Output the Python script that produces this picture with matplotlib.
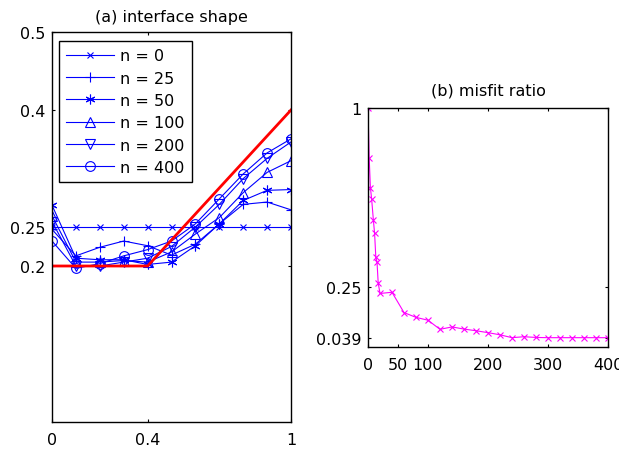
import matplotlib
matplotlib.use("Agg")
import matplotlib.pyplot as plt
import numpy as np

plt.rcParams['font.family'] = ['DejaVu Sans']
FS = 11.5
plt.rcParams['font.size'] = FS

# ---- data: (a) interface shape ----
x_pos = [0.0, 0.1, 0.2, 0.3, 0.4, 0.5, 0.6, 0.7, 0.8, 0.9, 1.0]
n0 = [0.25, 0.25, 0.25, 0.25, 0.25, 0.25, 0.25, 0.25, 0.25, 0.25, 0.25]
n25 = [0.247, 0.213, 0.224, 0.232, 0.226, 0.214, 0.228, 0.254, 0.279, 0.282, 0.272]
n50 = [0.278, 0.210, 0.208, 0.208, 0.202, 0.205, 0.226, 0.254, 0.284, 0.297, 0.298]
n100 = [0.2645, 0.205, 0.205, 0.207, 0.205, 0.218, 0.241, 0.262, 0.294, 0.320, 0.335]
n200 = [0.257, 0.200, 0.200, 0.205, 0.210, 0.225, 0.250, 0.279, 0.312, 0.338, 0.359]
n400 = [0.232, 0.197, 0.203, 0.213, 0.221, 0.232, 0.254, 0.286, 0.318, 0.345, 0.363]
series = [n0, n25, n50, n100, n200, n400]
labels = ['n = 0', 'n = 25', 'n = 50', 'n = 100', 'n = 200', 'n = 400']
markers = ['x', '+', (6, 2, 0), '^', 'v', 'o']
msizes = [5, 7, 7, 7, 7, 7]

true_x = [0.0, 0.4, 1.0]
true_y = [0.2, 0.2, 0.4]

# ---- data: (b) misfit ratio ----
iters = [0, 2, 4, 6, 9, 11, 13, 15, 17, 20, 40, 60, 80, 100, 120, 140, 160, 180,
         200, 220, 240, 260, 280, 300, 320, 340, 360, 380, 400]
misfit = [1.0, 0.79, 0.667, 0.621, 0.530, 0.475, 0.376, 0.356, 0.268, 0.224, 0.229,
          0.144, 0.124, 0.112, 0.074, 0.084, 0.075, 0.068, 0.060, 0.051, 0.039,
          0.043, 0.040, 0.039, 0.039, 0.039, 0.039, 0.039, 0.039]

W, H = 619, 452
fig = plt.figure(figsize=(W / 100, H / 100), dpi=100)

def frac(l, t, r, b):
    return [l / W, 1 - b / H, (r - l) / W, (b - t) / H]

ax1 = fig.add_axes(frac(52, 33, 291, 423))
for ys, lab, mk, ms in zip(series, labels, markers, msizes):
    ax1.plot(x_pos, ys, color='blue', lw=0.8, marker=mk, ms=ms,
             mfc='none', mec='blue', mew=0.8, label=lab)
ax1.plot(true_x, true_y, color='red', lw=2)
ax1.set_xlim(0, 1)
ax1.set_ylim(0, 0.5)
ax1.set_xticks([0, 0.4, 1])
ax1.set_xticklabels(['0', '0.4', '1'])
ax1.set_yticks([0.2, 0.25, 0.4, 0.5])
ax1.set_yticklabels(['0.2', '0.25', '0.4', '0.5'])
ax1.set_title('(a) interface shape', fontsize=FS, pad=8)
leg = ax1.legend(loc='upper left', bbox_to_anchor=(0.029, 0.977), borderaxespad=0,
                 fancybox=False, edgecolor='black', framealpha=1, handlelength=3.0,
                 labelspacing=0.46, handletextpad=0.4, borderpad=0.45)
leg.get_frame().set_linewidth(1.0)

ax2 = fig.add_axes(frac(368, 109, 608, 348))
ax2.plot(iters, misfit, color='magenta', lw=0.8, marker='x', ms=5, mew=0.8)
ax2.set_xlim(0, 400)
ax2.set_ylim(0, 1)
ax2.set_xticks([0, 50, 100, 200, 300, 400])
ax2.set_yticks([0.039, 0.25, 1])
ax2.set_yticklabels(['0.039', '0.25', '1'])
ax2.set_title('(b) misfit ratio', fontsize=FS, pad=10)

for ax in (ax1, ax2):
    ax.tick_params(direction='in', top=True, right=True, length=2.5, width=0.8,
                   labelsize=FS)
    ax.tick_params(axis='x', pad=7)
    ax.tick_params(axis='y', pad=5)
    for s in ax.spines.values():
        s.set_linewidth(1.0)

fig.savefig('out.png', dpi=100)
